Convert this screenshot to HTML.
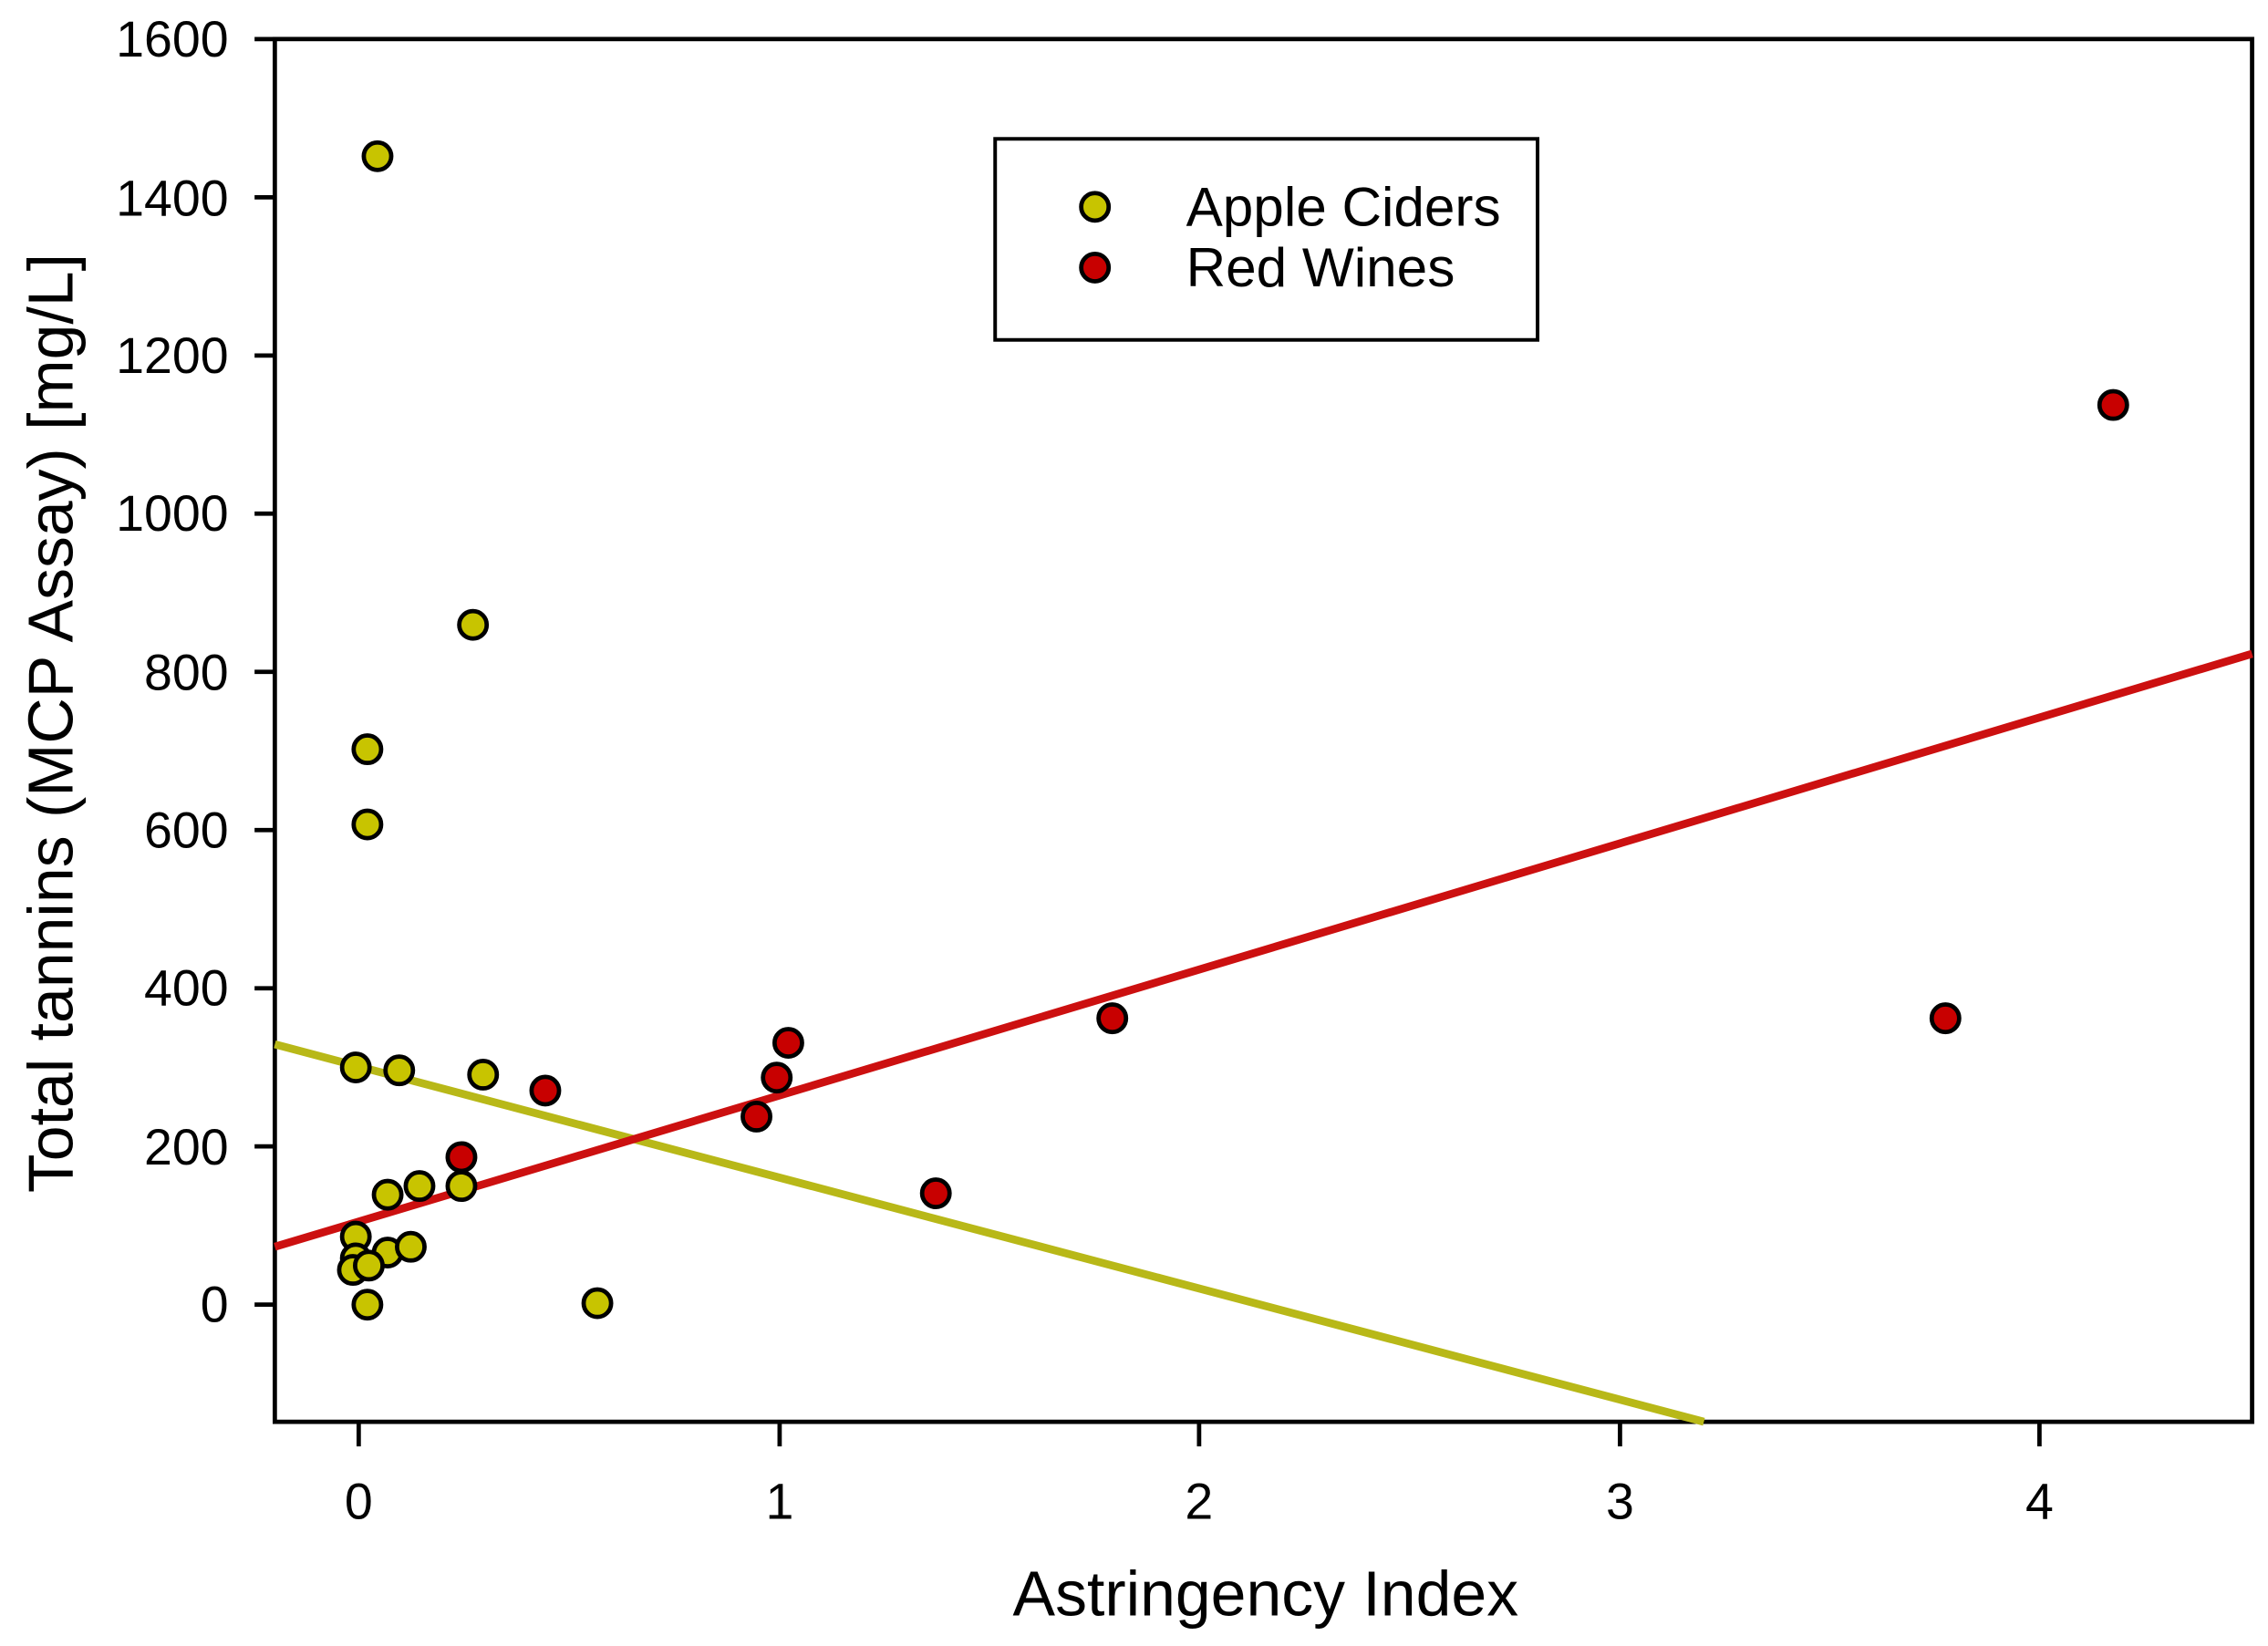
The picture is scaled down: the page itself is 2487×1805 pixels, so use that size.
<!DOCTYPE html>
<html><head><style>html,body{margin:0;padding:0;background:#fff}svg{display:block}</style></head>
<body>
<svg width="2487" height="1805" viewBox="0 0 1568 1138" preserveAspectRatio="none" xmlns="http://www.w3.org/2000/svg" font-family="Liberation Sans, Arial, sans-serif">
<rect x="0" y="0" width="1568" height="1138" fill="#fff"/>
<rect x="190" y="27" width="1367" height="956" fill="none" stroke="#000" stroke-width="3"/>
<g stroke="#000" stroke-width="3">
<line x1="176" y1="27" x2="190" y2="27"/><line x1="176" y1="136.4" x2="190" y2="136.4"/><line x1="176" y1="245.8" x2="190" y2="245.8"/><line x1="176" y1="355.1" x2="190" y2="355.1"/><line x1="176" y1="464.5" x2="190" y2="464.5"/><line x1="176" y1="573.9" x2="190" y2="573.9"/><line x1="176" y1="683.3" x2="190" y2="683.3"/><line x1="176" y1="792.6" x2="190" y2="792.6"/><line x1="176" y1="902" x2="190" y2="902"/>
<line x1="248" y1="983" x2="248" y2="1000"/><line x1="539" y1="983" x2="539" y2="1000"/><line x1="829" y1="983" x2="829" y2="1000"/><line x1="1120" y1="983" x2="1120" y2="1000"/><line x1="1410" y1="983" x2="1410" y2="1000"/>
</g>
<g font-size="35" text-anchor="end" fill="#000">
<text x="158" y="39">1600</text><text x="158" y="149">1400</text><text x="158" y="258">1200</text><text x="158" y="367">1000</text><text x="158" y="477">800</text><text x="158" y="586">600</text><text x="158" y="695">400</text><text x="158" y="805">200</text><text x="158" y="914">0</text>
</g>
<g font-size="35" text-anchor="middle" fill="#000">
<text x="248" y="1050">0</text><text x="539" y="1050">1</text><text x="829" y="1050">2</text><text x="1120" y="1050">3</text><text x="1410" y="1050">4</text>
</g>
<text x="875" y="1117" font-size="44" text-anchor="middle">Astringency Index</text>
<text transform="translate(50,500) rotate(-90)" font-size="44" text-anchor="middle">Total tannins (MCP Assay) [mg/L]</text>
<line x1="190" y1="722" x2="1178" y2="983" stroke="#b8b818" stroke-width="5.5"/>
<line x1="190" y1="862" x2="1557" y2="452" stroke="#cc1010" stroke-width="5.5"/>
<g fill="#c8c400" stroke="#000" stroke-width="3">
<circle cx="261" cy="108" r="9.5"/><circle cx="327" cy="432" r="9.5"/><circle cx="254" cy="518" r="9.5"/><circle cx="254" cy="570" r="9.5"/><circle cx="246" cy="738" r="9.5"/><circle cx="276" cy="740" r="9.5"/><circle cx="334" cy="743" r="9.5"/><circle cx="268" cy="826" r="9.5"/><circle cx="290" cy="820" r="9.5"/><circle cx="319" cy="820" r="9.5"/><circle cx="246" cy="855" r="9.5"/><circle cx="246" cy="870" r="9.5"/><circle cx="244" cy="878" r="9.5"/><circle cx="268" cy="866" r="9.5"/><circle cx="284" cy="862" r="9.5"/><circle cx="255" cy="875" r="9.5"/><circle cx="254" cy="902" r="9.5"/><circle cx="413" cy="901" r="9.5"/>
</g>
<g fill="#c80000" stroke="#000" stroke-width="3">
<circle cx="1461" cy="280" r="9.5"/><circle cx="769" cy="704" r="9.5"/><circle cx="1345" cy="704" r="9.5"/><circle cx="545" cy="721" r="9.5"/><circle cx="537" cy="745" r="9.5"/><circle cx="523" cy="772" r="9.5"/><circle cx="377" cy="754" r="9.5"/><circle cx="319" cy="800" r="9.5"/><circle cx="647" cy="825" r="9.5"/>
</g>
<rect x="688" y="96" width="375" height="139" fill="#fff" stroke="#000" stroke-width="2.5"/>
<circle cx="757" cy="143" r="9.5" fill="#c8c400" stroke="#000" stroke-width="3"/>
<circle cx="757" cy="185" r="9.5" fill="#c80000" stroke="#000" stroke-width="3"/>
<text x="820" y="156" font-size="38">Apple Ciders</text>
<text x="820" y="198" font-size="38">Red Wines</text>
</svg>
</body></html>
